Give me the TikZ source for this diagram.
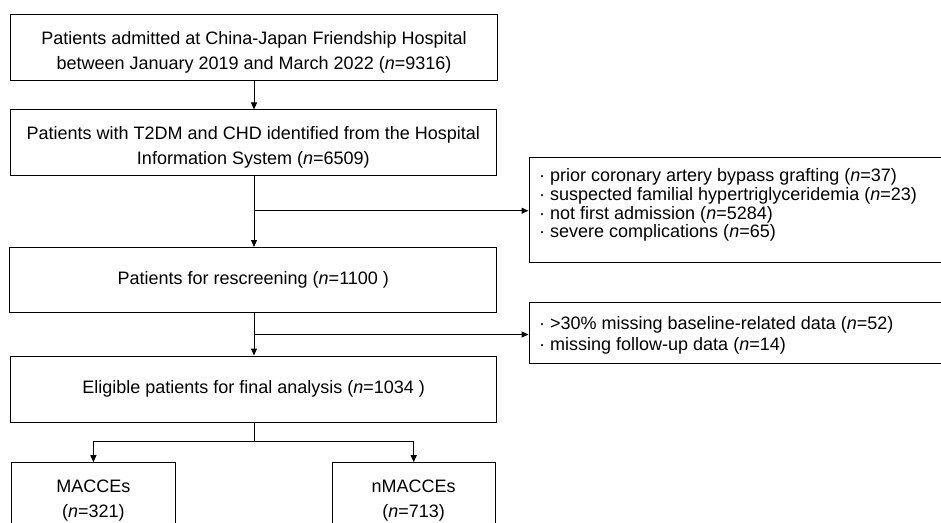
\documentclass[tikz,border=0pt]{standalone}
\usepackage{fontspec}
\setmainfont{Liberation Sans}
\usetikzlibrary{arrows.meta}
\tikzset{
  box/.style={draw, line width=1pt, inner sep=0pt, align=center, font=\fontsize{18}{25}\selectfont},
  exbox/.style={draw, line width=1pt, inner sep=0pt},
  extext/.style={anchor=north west, align=left, inner sep=0pt},
  arr/.style={-{Triangle[length=7pt,width=6pt]}, line width=1pt},
  lin/.style={line width=1pt}
}
\newcommand{\nn}{\textit{n}}
\newcommand{\pushdown}[1]{\rule{0pt}{#1}}
\begin{document}
\begin{tikzpicture}[x=1pt,y=-1pt]
\useasboundingbox (0,0) rectangle (941,522);
\clip (0,0) rectangle (941,522);
\fill[white] (0,0) rectangle (941,522);
\node[box, minimum width=487pt, minimum height=65.5pt] (b1) at (254,47.3)
  {\pushdown{23pt}Patients admitted at China-Japan Friendship Hospital\\between January 2019 and March 2022 (\nn=9316)};
\node[box, minimum width=486.5pt, minimum height=65.7pt] (b2) at (253.3,142.8)
  {\pushdown{23pt}Patients with T2DM and CHD identified from the Hospital\\Information System (\nn=6509)};
\node[box, minimum width=486.7pt, minimum height=65.2pt] (b3) at (253.3,280.1)
  {Patients for rescreening (\nn=1100 )};
\node[box, minimum width=486.2pt, minimum height=66pt] (b4) at (253.6,389)
  {Eligible patients for final analysis (\nn=1034 )};
\node[box, minimum width=164.7pt, minimum height=68.6pt] (m1) at (93.4,497)
  {\pushdown{19.5pt}MACCEs\\(\nn=321)};
\node[box, minimum width=162.7pt, minimum height=68.6pt] (m2) at (413.7,497)
  {\pushdown{19.5pt}nMACCEs\\(\nn=713)};
\node[exbox, minimum width=431pt, minimum height=105pt] (e1) at (744.5,210.2) {};
\node[extext, font=\fontsize{18}{18.7}\selectfont] (e1t) at (539,168.5)
  {· prior coronary artery bypass grafting (\nn=37)\\
   · suspected familial hypertriglyceridemia (\nn=23)\\
   · not first admission (\nn=5284)\\
   · severe complications (\nn=65)};
\node[exbox, minimum width=431pt, minimum height=61.3pt] (e2) at (744.5,333.3) {};
\node[extext, font=\fontsize{18}{21}\selectfont] (e2t) at (539,316.3)
  {· >30\% missing baseline-related data (\nn=52)\\
   · missing follow-up data (\nn=14)};
\coordinate (j1) at (254,210.7);
\coordinate (j2) at (254,334.5);
\coordinate (j3) at (254,441.7);
\draw[arr] (b1.south -| j1) -- (b2.north -| j1);
\draw[arr] (b2.south -| j1) -- (b3.north -| j1);
\draw[arr] (j1) -- (j1 -| e1.west);
\draw[arr] (b3.south -| j1) -- (b4.north -| j1);
\draw[arr] (j2) -- (j2 -| e2.west);
\draw[lin] (b4.south -| j3) -- (j3);
\draw[arr] (j3) -| (m1.north);
\draw[arr] (j3) -| (m2.north);
\end{tikzpicture}
\end{document}
